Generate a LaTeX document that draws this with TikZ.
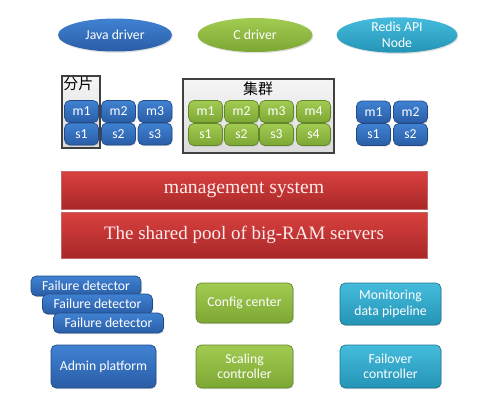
\documentclass[tikz,border=0pt]{standalone}
\usepackage{fontspec}
\setmainfont{Carlito}
\newfontfamily\barfont{Liberation Serif}
\newfontfamily\cjk{Noto Sans CJK SC}
\usepackage{tikz}
\usetikzlibrary{shadows,shapes.geometric}

\definecolor{blueTop}{HTML}{3F82D2}
\definecolor{blueBot}{HTML}{2A5DA6}
\definecolor{greenTop}{HTML}{A2CB52}
\definecolor{greenBot}{HTML}{7CA733}
\definecolor{cyanTop}{HTML}{45BCDD}
\definecolor{cyanBot}{HTML}{2494B6}
\definecolor{redTop}{HTML}{D9413F}
\definecolor{redBot}{HTML}{A82828}

\tikzset{
  blk/.style={rounded corners=3pt, text=white, align=center, inner sep=0pt,
    font=\fontsize{7.8}{8.8}\selectfont, drop shadow={opacity=0.25, shadow xshift=0.5pt, shadow yshift=-0.7pt}},
  bluebox/.style={blk, top color=blueTop, bottom color=blueBot, draw=blueBot!80!black},
  greenbox/.style={blk, top color=greenTop, bottom color=greenBot, draw=greenBot!80!black},
  cyanbox/.style={blk, top color=cyanTop, bottom color=cyanBot, draw=cyanBot!80!black},
  drv/.style={ellipse, inner sep=0pt, text=white, align=center,
    font=\fontsize{7.8}{8.8}\selectfont, drop shadow={opacity=0.25, shadow xshift=0.5pt, shadow yshift=-0.7pt}},
  ms/.style={minimum width=0.68cm, minimum height=0.44cm},
  frame/.style={draw=black!75, line width=0.6pt, top color=black!4, bottom color=black!14},
  redbar/.style={top color=redTop, bottom color=redBot, draw=redBot!70!white, text=white!92!red,
    minimum width=7.32cm, inner sep=0pt, font=\barfont}
}

\begin{document}
\begin{tikzpicture}[x=0.02cm, y=-0.02cm]
\useasboundingbox (0,0) rectangle (480,400);

% drivers
\node[drv, top color=blueTop, bottom color=blueBot, minimum width=2.28cm, minimum height=0.66cm] (java) at (115,35) {Java driver};
\node[drv, top color=greenTop, bottom color=greenBot, minimum width=2.3cm, minimum height=0.68cm] (cdrv) at (255,35) {C driver};
\node[drv, top color=cyanTop, bottom color=cyanBot, minimum width=2.42cm, minimum height=0.7cm] (redis) at (397,35) {Redis API\\Node};

% shards
\draw[frame] (62,76) rectangle (100,148);
\node[anchor=north west, inner sep=0pt, font=\cjk\fontsize{8.5}{9.5}\selectfont] (shard) at (63,77) {分片};
\draw[frame] (183,79) rectangle (334,153);
\node[inner sep=0pt, font=\cjk\fontsize{8.5}{9.5}\selectfont] (cluster) at (258,89) {集群};

\foreach \i/\x in {1/81.5, 2/118.5, 3/155} {
  \node[bluebox, ms] (lm\i) at (\x,111.5) {m\i};
  \node[bluebox, ms] (ls\i) at (\x,134) {s\i};
}
\foreach \i/\x in {1/205.5, 2/241.5, 3/276.5, 4/313.5} {
  \node[greenbox, ms] (cm\i) at (\x,111.5) {m\i};
  \node[greenbox, ms] (cs\i) at (\x,134.5) {s\i};
}
\foreach \i/\x in {1/373.5, 2/410.5} {
  \node[bluebox, ms] (rm\i) at (\x,112) {m\i};
  \node[bluebox, ms] (rs\i) at (\x,134.5) {s\i};
}

% layers
\node[redbar, minimum height=0.76cm, font=\barfont\fontsize{11.2}{13}\selectfont] (mgmt) at (244,190) {management system};
\node[redbar, minimum height=0.92cm, font=\barfont\fontsize{10.8}{13}\selectfont] (pool) at (244,235) {The shared pool of big-RAM servers};

% services
\node[bluebox, minimum width=2.2cm, minimum height=0.4cm] (fd1) at (86,286) {Failure detector};
\node[bluebox, minimum width=2.2cm, minimum height=0.4cm] (fd2) at (97.5,304) {Failure detector};
\node[bluebox, minimum width=2.2cm, minimum height=0.4cm] (fd3) at (108.5,323) {Failure detector};
\node[bluebox, minimum width=2.1cm, minimum height=0.86cm] (admin) at (103.5,366.5) {Admin platform};
\node[greenbox, minimum width=1.94cm, minimum height=0.8cm] (config) at (244.5,303) {Config center};
\node[greenbox, minimum width=1.94cm, minimum height=0.86cm] (scale) at (244.5,366.5) {Scaling\\controller};
\node[cyanbox, minimum width=2.02cm, minimum height=0.84cm] (monitor) at (390.5,304) {Monitoring\\data pipeline};
\node[cyanbox, minimum width=2.02cm, minimum height=0.86cm] (failover) at (390.5,366.5) {Failover\\controller};
\end{tikzpicture}
\end{document}
